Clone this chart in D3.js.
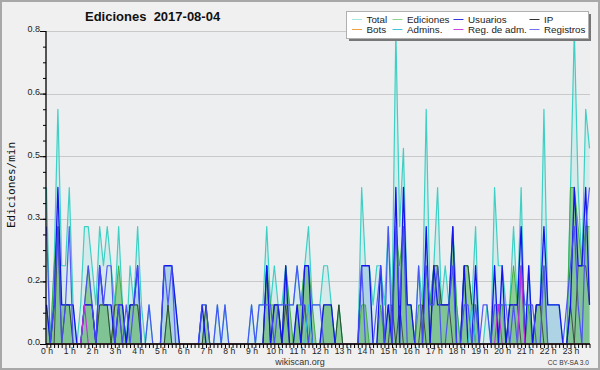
<!DOCTYPE html>
<html><head><meta charset="utf-8">
<script src="https://cdn.jsdelivr.net/npm/d3@7/dist/d3.min.js"></script>
<style>html,body{margin:0;padding:0;background:#f0f0f0;}svg{display:block}</style>
</head><body>
<script>
// 10-minute bins, edits per minute
const hourLabels = ["0 h","1 h","2 h","3 h","4 h","5 h","6 h","7 h","8 h","9 h","10 h","11 h","12 h","13 h","14 h","15 h","16 h","17 h","18 h","19 h","20 h","21 h","22 h","23 h"];
const yTickValues = [0, 0.16, 0.32, 0.48, 0.64, 0.8];
const yTickLabels = ["0.0","0.2","0.3","0.5","0.6","0.8"];

const total = [
0.4,0,0.2,0.6,0.2,0.2,0.4,0.1,0,0.1,0.3,0.3,
0.2,0.1,0.3,0.2,0.3,0.2,0.1,0.3,0.1,0,0.2,0.1,
0.3,0.1,0,0.1,0,0,0,0.2,0.2,0.2,0.1,0,
0,0,0,0,0,0.1,0.1,0,0,0.1,0,0.1,
0,0,0,0,0,0,0.1,0,0.1,0.1,0.3,0.1,
0.2,0.1,0.1,0.2,0.1,0.1,0.2,0.1,0.2,0.3,0.1,0.1,
0.1,0.2,0.2,0.1,0,0.1,0,0,0,0,0,0.4,
0.2,0.2,0.1,0.2,0.2,0.1,0.3,0.1,0.8,0.3,0.5,0.1,
0.1,0,0.2,0.1,0.6,0.1,0.2,0.4,0.1,0.2,0.1,0.3,
0.1,0,0.2,0.2,0.1,0.3,0,0,0.1,0,0.4,0.2,
0.2,0.1,0.1,0.3,0.1,0.4,0,0.2,0,0.1,0.1,0.6,
0.1,0.1,0.1,0.1,0,0,0.4,0.8,0.4,0.2,0.6,0.5];

const ediciones = [
0.1,0,0.2,0.3,0.1,0.1,0.1,0,0,0,0.1,0.2,
0.1,0,0.1,0.1,0.1,0,0.1,0.2,0.1,0,0.1,0.1,
0.1,0,0,0,0,0,0,0,0.1,0,0,0,
0,0,0,0,0,0,0.1,0,0,0,0,0,
0,0,0,0,0,0,0,0,0,0,0.2,0.1,
0.1,0.1,0,0.2,0.1,0,0.1,0.1,0.2,0.2,0.1,0,
0,0.1,0.1,0.1,0,0.1,0,0,0,0,0,0.1,
0.1,0,0,0,0.1,0,0.1,0.1,0.3,0.2,0.3,0.1,
0.1,0,0.1,0.1,0.2,0.1,0.2,0.2,0.1,0.1,0.1,0.3,
0.1,0,0.2,0.2,0.1,0.1,0,0,0,0,0.1,0.1,
0.1,0,0.1,0.2,0.1,0.2,0,0.1,0,0.1,0.1,0.2,
0,0,0,0,0,0,0.4,0.4,0.3,0.2,0.3,0.3];

const usuarios = [
0.1,0,0.1,0.4,0.1,0.1,0.1,0.1,0,0,0.1,0.1,
0.1,0,0.2,0.1,0.1,0.1,0,0.1,0.1,0,0.1,0.1,
0.2,0,0,0,0,0,0,0.2,0.2,0.2,0.1,0,
0,0,0,0,0,0.1,0,0,0,0,0,0,
0,0,0,0,0,0,0,0,0,0,0.2,0,
0.1,0.1,0,0.2,0,0,0.1,0,0.2,0.2,0,0,
0,0.1,0.1,0.1,0,0,0,0,0,0,0,0.2,
0.2,0.2,0,0,0.2,0,0.1,0,0.4,0,0.4,0.1,
0.1,0,0,0,0.3,0,0.2,0.1,0.1,0.1,0.1,0.3,
0,0,0.2,0,0,0.2,0,0,0,0,0.2,0,
0.2,0,0.1,0.1,0.1,0.3,0,0.2,0,0.1,0.1,0.3,
0.1,0.1,0.1,0.1,0,0,0.1,0.4,0.2,0.2,0.4,0.1];

const ip = [
0,0,0,0.3,0,0.1,0.1,0,0,0,0.1,0.1,
0.1,0,0.1,0.1,0.1,0,0.1,0.1,0,0,0.1,0.1,
0.1,0,0,0,0,0,0,0,0.1,0,0,0,
0,0,0,0,0,0,0.1,0,0,0,0,0,
0,0,0,0,0,0,0,0,0,0,0.2,0,
0.1,0.1,0,0.1,0,0,0,0,0.1,0,0,0,
0,0,0,0,0,0.1,0,0,0,0,0,0,
0,0,0,0,0,0,0,0.1,0,0.1,0,0,
0,0,0,0.1,0,0,0.2,0.2,0.1,0.1,0.1,0,
0,0,0.2,0.2,0.1,0,0,0,0,0,0,0,
0,0,0.1,0.1,0.1,0,0,0,0,0.1,0.1,0,
0,0,0,0,0,0,0.1,0,0.2,0.2,0.2,0.1];

const registros = [
0.3,0,0.1,0.3,0,0.1,0.3,0,0,0,0.1,0.2,
0.1,0,0.2,0.1,0.2,0.2,0,0.1,0,0.1,0,0.1,
0.2,0,0,0.1,0,0,0,0.2,0.1,0.2,0,0,
0,0,0,0,0,0.1,0.1,0,0,0.1,0,0.1,
0,0,0,0,0,0,0.1,0,0.1,0.1,0.1,0.1,
0,0.1,0.1,0.1,0.1,0.1,0.2,0.1,0.1,0,0.1,0.1,
0.1,0,0,0,0,0,0,0,0,0,0,0.2,
0,0,0,0.1,0.2,0,0.3,0,0.3,0.1,0.3,0,
0,0,0.2,0,0.2,0.1,0.1,0.2,0,0,0.1,0.2,
0,0,0.1,0.1,0,0.1,0,0.1,0.1,0,0.1,0.1,
0.1,0.1,0,0.1,0,0.2,0.1,0.1,0.1,0,0,0.2,
0,0,0,0,0,0.1,0.2,0.3,0.1,0,0.3,0.4];

const admins = [
0,0,0,0,0,0,0,0,0,0,0,0,
0,0,0,0,0,0,0,0,0,0,0,0,
0,0,0,0,0,0,0,0,0,0,0,0,
0,0,0,0,0,0,0,0,0,0,0,0,
0,0,0,0,0,0,0,0,0,0,0,0,
0,0,0,0,0,0,0,0,0,0.1,0,0,
0,0,0,0,0,0,0,0,0,0,0,0,
0,0,0,0,0,0,0,0,0,0,0,0,
0,0,0,0,0,0,0,0,0,0,0,0,
0,0,0,0,0.1,0,0,0,0,0,0,0,
0,0,0,0,0,0,0,0,0,0,0,0,
0,0,0,0,0,0,0,0,0,0,0,0];

const regAdm = [
0,0,0,0,0,0,0,0,0,0,0.1,0,
0,0,0,0,0,0,0,0,0,0,0,0,
0,0,0,0,0,0,0,0,0,0,0,0,
0,0,0,0,0,0,0,0,0,0,0,0,
0,0,0,0,0,0,0,0,0,0,0,0,
0,0,0,0,0,0,0,0,0,0,0,0,
0,0,0,0,0,0,0,0,0,0,0,0,
0,0,0,0,0,0,0,0,0,0,0,0,
0,0,0,0,0,0,0,0,0,0,0,0,
0,0,0,0,0,0,0,0,0,0,0,0.1,
0,0,0,0,0,0.2,0,0,0,0,0,0,
0,0,0,0,0,0,0,0,0,0,0,0];

const bots = new Array(144).fill(0);

const legendItems = [
  {label:"Total", color:"#a6e4df", col:0, row:0},
  {label:"Bots", color:"#f0a040", col:0, row:1},
  {label:"Ediciones", color:"#8fd48f", col:1, row:0},
  {label:"Admins.", color:"#40c4d8", col:1, row:1},
  {label:"Usuarios", color:"#3535e0", col:2, row:0},
  {label:"Reg. de adm.", color:"#cc44dd", col:2, row:1},
  {label:"IP", color:"#333333", col:3, row:0},
  {label:"Registros", color:"#7070f0", col:3, row:1}
];

const W = 600, H = 370;
const svg = d3.select("body").append("svg").attr("width", W).attr("height", H);
const font = "'Liberation Sans', Arial, sans-serif";

svg.append("rect").attr("x",1).attr("y",1).attr("width",W-2).attr("height",H-2)
  .attr("fill","#f0f0f0").attr("stroke","#a8a8a8").attr("stroke-width",2);

const x = d3.scaleLinear().domain([0,143]).range([46.5,589.5]);
const y = d3.scaleLinear().domain([0,0.8]).range([344,31]);

svg.append("rect").attr("x",46).attr("y",31).attr("width",544).attr("height",313).attr("fill","#edeef0");

// grid
svg.append("g").selectAll("line").data(yTickValues.filter(v=>v>0)).join("line")
  .attr("x1",46).attr("x2",590).attr("y1",d=>Math.round(y(d))+0.5).attr("y2",d=>Math.round(y(d))+0.5)
  .attr("stroke","#c9c9c9").attr("stroke-width",1);

const idx = d3.range(144);
const area = s => d3.area().x(i=>x(i)).y0(y(0)).y1(i=>y(s[i]));
const line = s => d3.line().x(i=>x(i)).y(i=>y(s[i]));

svg.append("path").attr("d", area(total)(idx)).attr("fill","rgba(150,228,218,0.28)");
svg.append("path").attr("d", area(usuarios)(idx)).attr("fill","rgba(135,188,222,0.5)");
svg.append("path").attr("d", area(ediciones)(idx)).attr("fill","rgba(100,185,100,0.62)");

const lines = [
  [total, "#3ed0c4", 1.2, 1],
  [ediciones, "#3aa83a", 1, 0.9],
  [ip, "#2a2a2a", 1, 0.75],
  [usuarios, "#1414ec", 1.3, 1],
  [registros, "#4848fa", 1.2, 0.9],
  [admins, "#30c0dc", 1.1, 1],
  [regAdm, "#c030d8", 1.1, 1],
  [bots, "#f0a040", 1, 1]
];
lines.forEach(([s,c,w,o]) => {
  svg.append("path").attr("d", line(s)(idx)).attr("fill","none")
    .attr("stroke",c).attr("stroke-width",w).attr("stroke-opacity",o).attr("stroke-linejoin","round");
});

// x axis
const xAxis = d3.axisBottom(x).tickValues(idx).tickSize(4).tickSizeOuter(0)
  .tickFormat(i => i % 6 === 0 ? hourLabels[i/6] : "");
const gx = svg.append("g").attr("transform","translate(0,344)").call(xAxis);
gx.select(".domain").attr("d","M46,0H590").attr("stroke","#000").attr("stroke-width",1.6);
gx.selectAll(".tick line").attr("stroke","#000").attr("stroke-width",1);
gx.selectAll(".tick text").attr("font-family",font).attr("font-size","8.6px").attr("fill","#222").attr("y",4).attr("dy","0.71em");

// y axis
const yMinor = d3.range(0, 21).map(k => k*0.04);
const yAxisMinor = d3.axisLeft(y).tickValues(yMinor).tickSize(3).tickFormat("");
const gyMinor = svg.append("g").attr("transform","translate(46,0)").call(yAxisMinor);
gyMinor.select(".domain").remove();
gyMinor.selectAll(".tick line").attr("stroke","#000");
const yAxis = d3.axisLeft(y).tickValues(yTickValues).tickSize(6).tickSizeOuter(0)
  .tickFormat((d,i) => yTickLabels[i]);
const gy = svg.append("g").attr("transform","translate(46,0)").call(yAxis);
gy.select(".domain").attr("d","M0,31V344").attr("stroke","#000").attr("stroke-width",1.3);
gy.selectAll(".tick line").attr("stroke","#000");
gy.selectAll(".tick text").attr("font-family",font).attr("font-size","9px").attr("fill","#222").attr("x",-6).attr("dy","0.1em");

// titles
svg.append("text").attr("x",85).attr("y",21).attr("font-family",font).attr("font-weight","bold")
  .attr("font-size","13px").attr("fill","#111").style("white-space","pre").text("Ediciones  2017-08-04");
svg.append("text").attr("transform","translate(15,185) rotate(-90)").attr("text-anchor","middle")
  .attr("font-family","'DejaVu Sans Mono', monospace").attr("font-size","11px").attr("fill","#111").text("Ediciones/min");
svg.append("text").attr("x",300).attr("y",364.5).attr("text-anchor","middle").attr("font-family",font)
  .attr("font-size","9px").attr("fill","#333").text("wikiscan.org");
svg.append("text").attr("x",589).attr("y",364.5).attr("text-anchor","end").attr("font-family",font)
  .attr("font-size","6.6px").attr("fill","#333").text("CC BY-SA 3.0");

// legend
const lg = svg.append("g");
lg.append("rect").attr("x",349).attr("y",14).attr("width",242).attr("height",27).attr("fill","#777");
lg.append("rect").attr("x",346.5).attr("y",11.5).attr("width",242).attr("height",27).attr("fill","#fff").attr("stroke","#b0b0b0");
const colX = [352, 392.5, 453.5, 529.5];
const rowY = [19, 29];
legendItems.forEach(it => {
  lg.append("line").attr("x1",colX[it.col]).attr("x2",colX[it.col]+10)
    .attr("y1",rowY[it.row]+0.5).attr("y2",rowY[it.row]+0.5).attr("stroke",it.color).attr("stroke-width",1);
  lg.append("text").attr("x",colX[it.col]+14.5).attr("y",rowY[it.row]+3.5).attr("font-family",font)
    .attr("font-size","9.8px").attr("fill","#222").text(it.label);
});
</script>
</body></html>
